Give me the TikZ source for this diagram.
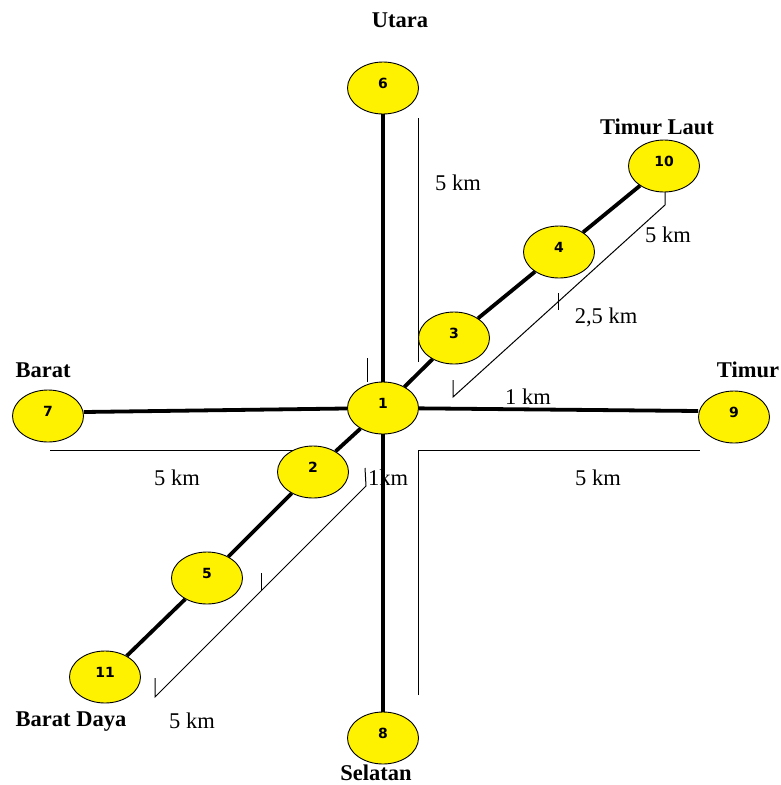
\documentclass[tikz,border=0pt]{standalone}
\usepackage{fontspec}
\setmainfont{Liberation Serif}
\newfontfamily\numfont{DejaVu Sans}
\usetikzlibrary{shapes.geometric}
\begin{document}
\begin{tikzpicture}[x=1pt,y=-1pt,
  site/.style={ellipse,draw=black,line width=0.9pt,fill=yellow,
    minimum width=71pt,minimum height=52pt,inner sep=0pt,
    text height=10pt,text depth=9pt,
    font=\numfont\bfseries\fontsize{14}{15}\selectfont},
  road/.style={line width=3.8pt},
  dim/.style={line width=1pt},
  dir/.style={font=\bfseries\fontsize{22.5}{26}\selectfont,inner sep=0pt},
  dist/.style={font=\fontsize{22.5}{26}\selectfont,inner sep=0pt}]
\useasboundingbox (0,0) rectangle (780,785);

% distance (dimension) lines
\draw[dim] (418,118) -- (418,362);
\draw[dim] (367,358) -- (367,382);
\draw[dim] (453,380) -- (453,397) -- (665,205) -- (665,192);
\draw[dim] (558,293) -- (558,310);
\draw[dim] (50,450) -- (300,450);
\draw[dim] (418,695) -- (418,450) -- (700,450);
\draw[dim] (365,468) -- (366,486) -- (155,697) -- (155,678);
\draw[dim] (261,573) -- (261,590);

% sites
\node[site] (n1)  at (383,408) {1};
\node[site] (n2)  at (313,472) {2};
\node[site] (n3)  at (454,338) {3};
\node[site] (n4)  at (559,252) {4};
\node[site] (n5)  at (207,578) {5};
\node[site] (n6)  at (383,88)  {6};
\node[site] (n7)  at (48,416)  {7};
\node[site] (n8)  at (383,738) {8};
\node[site] (n9)  at (734,417) {9};
\node[site] (n10) at (664,166) {10};
\node[site] (n11) at (105,677) {11};

% roads
\draw[road] (n6) -- (n1) -- (n8);
\draw[road] ([yshift=4pt]n7.east) -- (n1);
\draw[road] (n1) -- ([yshift=6pt]n9.west);
\draw[road] (n11) -- (n5) -- (n2) -- (n1) -- (n3) -- (n4) -- (n10);

% directions
\node[dir] (tU)  at (400,20)  {Utara};
\node[dir] (tTL) at (657,127) {Timur Laut};
\node[dir] (tB)  at (43,370)  {Barat};
\node[dir] (tT)  at (748,370) {Timur};
\node[dir] (tBD) at (71,722)  {Barat Daya};
\node[dir] (tS)  at (376,773) {Selatan};

% distances
\node[dist] (d1) at (458,183) {5 km};
\node[dist] (d2) at (668,235) {5 km};
\node[dist] (d3) at (606,317) {2,5 km};
\node[dist] (d4) at (528,397) {1 km};
\node[dist] (d5) at (177,478) {5 km};
\node[dist] (d6) at (388,478) {1km};
\node[dist] (d7) at (598,478) {5 km};
\node[dist] (d8) at (192,721) {5 km};
\end{tikzpicture}
\end{document}
